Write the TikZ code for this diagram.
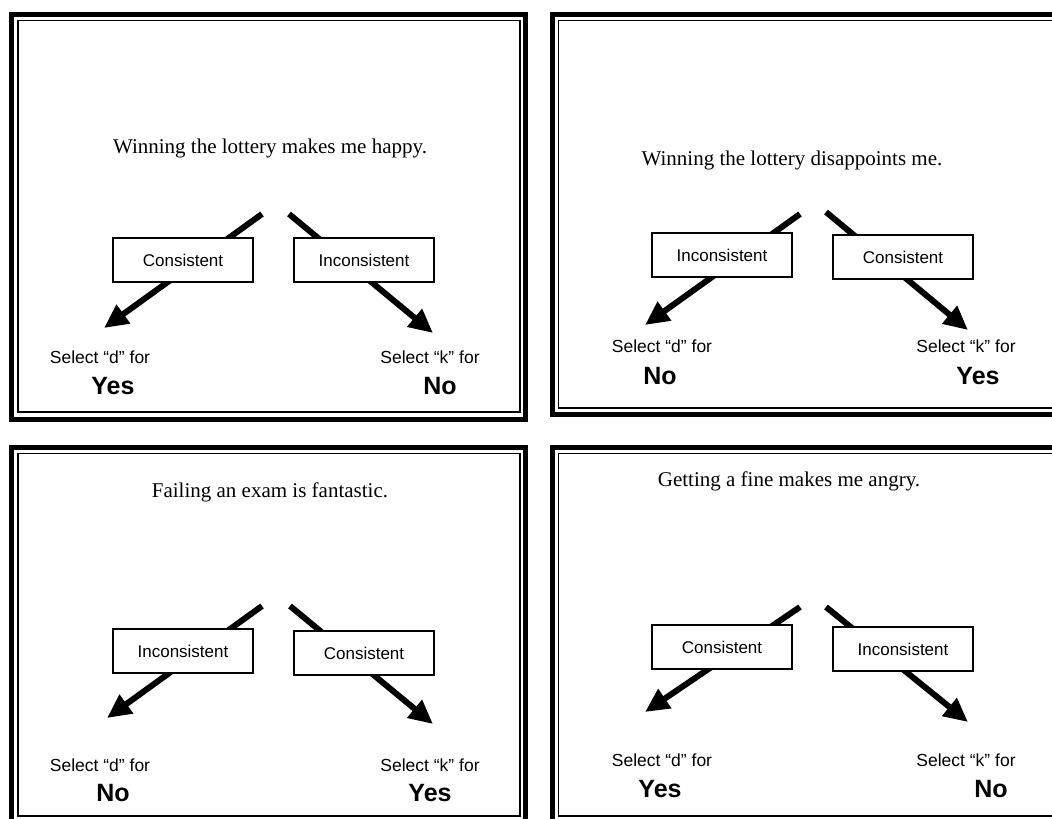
\documentclass[tikz,border=0pt]{standalone}
\usepackage{fontspec}
\setmainfont{Liberation Serif}
\setsansfont{Liberation Sans}
\usetikzlibrary{arrows.meta}
\tikzset{
	frameout/.style={line width=5pt},
	framein/.style={line width=1.6pt},
	stmt/.style={font=\fontsize{21}{24}\selectfont, inner sep=0pt},
	choice/.style={draw, fill=white, line width=1.2pt, minimum width=140pt, minimum height=44pt, inner sep=0pt, font=\sffamily\fontsize{17}{20}\selectfont},
	keytxt/.style={font=\sffamily\fontsize{17.5}{20}\selectfont, inner sep=0pt},
	answer/.style={font=\sffamily\bfseries\fontsize{25}{28}\selectfont, inner sep=0pt},
	pointer/.style={line width=6pt, -{Triangle[length=24pt,width=22pt]}},
}

\begin{document}
\begin{tikzpicture}[x=1pt, y=-1pt]
			%%%%% START %%%%%
			\useasboundingbox (0, 0) rectangle (1052, 819);
			\clip (0, 0) rectangle (1052, 819);
			
			%%%%% top left
			\draw[frameout] (11.5, 14.5) rectangle (525.5, 419.5);
			\draw[framein] (18, 20.5) rectangle (520, 412);
			\node[stmt] (tl-stmt) at (270, 148) {Winning the lottery makes me happy.};
			\coordinate (tl-ltail) at (262, 214);
			\coordinate (tl-lhead) at (104, 328);
			\coordinate (tl-rtail) at (289, 214);
			\coordinate (tl-rhead) at (433, 333);
			\draw[pointer] (tl-ltail) -- (tl-lhead);
			\draw[pointer] (tl-rtail) -- (tl-rhead);
			\node[choice] (tl-left) at (183, 260) {Consistent};
			\node[choice] (tl-right) at (364, 260) {Inconsistent};
			\node[keytxt] (tl-seld) at (100, 357) {Select “d” for};
			\node[answer] (tl-ansd) at (113, 386) {Yes};
			\node[keytxt] (tl-selk) at (430, 357) {Select “k” for};
			\node[answer] (tl-ansk) at (440, 386) {No};
			
			%%%%% top right
			\draw[frameout] (552.5, 14.5) rectangle (1070, 414.5);
			\draw[framein] (558.5, 20.5) rectangle (1070, 408);
			\node[stmt] (tr-stmt) at (792, 160) {Winning the lottery disappoints me.};
			\coordinate (tr-ltail) at (800, 214);
			\coordinate (tr-lhead) at (645, 325);
			\coordinate (tr-rtail) at (826, 212);
			\coordinate (tr-rhead) at (968, 330);
			\draw[pointer] (tr-ltail) -- (tr-lhead);
			\draw[pointer] (tr-rtail) -- (tr-rhead);
			\node[choice] (tr-left) at (722, 255) {Inconsistent};
			\node[choice] (tr-right) at (903, 257) {Consistent};
			\node[keytxt] (tr-seld) at (662, 346) {Select “d” for};
			\node[answer] (tr-ansd) at (660, 376) {No};
			\node[keytxt] (tr-selk) at (966, 346) {Select “k” for};
			\node[answer] (tr-ansk) at (978, 376) {Yes};
			
			%%%%% bottom left
			\draw[frameout] (11.5, 447.5) rectangle (525.5, 822);
			\draw[framein] (18, 453.5) rectangle (520, 816);
			\node[stmt] (bl-stmt) at (270, 492) {Failing an exam is fantastic.};
			\coordinate (bl-ltail) at (262, 606);
			\coordinate (bl-lhead) at (107, 718);
			\coordinate (bl-rtail) at (290, 606);
			\coordinate (bl-rhead) at (433, 724);
			\draw[pointer] (bl-ltail) -- (bl-lhead);
			\draw[pointer] (bl-rtail) -- (bl-rhead);
			\node[choice] (bl-left) at (183, 651) {Inconsistent};
			\node[choice] (bl-right) at (364, 653) {Consistent};
			\node[keytxt] (bl-seld) at (100, 765) {Select “d” for};
			\node[answer] (bl-ansd) at (113, 793) {No};
			\node[keytxt] (bl-selk) at (430, 765) {Select “k” for};
			\node[answer] (bl-ansk) at (430, 793) {Yes};
			
			%%%%% bottom right
			\draw[frameout] (552.5, 447.5) rectangle (1070, 822);
			\draw[framein] (558.5, 453.5) rectangle (1070, 816);
			\node[stmt] (br-stmt) at (789, 481) {Getting a fine makes me angry.};
			\coordinate (br-ltail) at (800, 607);
			\coordinate (br-lhead) at (645, 712);
			\coordinate (br-rtail) at (826, 607);
			\coordinate (br-rhead) at (968, 722);
			\draw[pointer] (br-ltail) -- (br-lhead);
			\draw[pointer] (br-rtail) -- (br-rhead);
			\node[choice] (br-left) at (722, 647) {Consistent};
			\node[choice] (br-right) at (903, 649) {Inconsistent};
			\node[keytxt] (br-seld) at (662, 760) {Select “d” for};
			\node[answer] (br-ansd) at (660, 789) {Yes};
			\node[keytxt] (br-selk) at (966, 760) {Select “k” for};
			\node[answer] (br-ansk) at (991, 789) {No};
			
			%%%%% END %%%%%
\end{tikzpicture}
\end{document}
